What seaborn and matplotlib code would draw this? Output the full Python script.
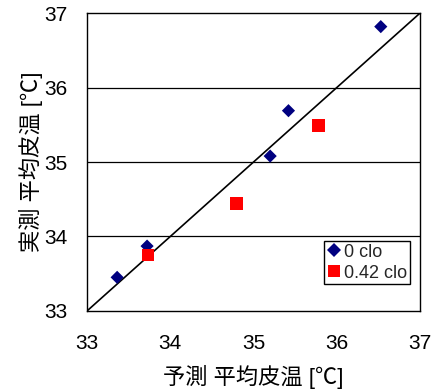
import matplotlib
matplotlib.use("Agg")
import matplotlib.pyplot as plt
import seaborn as sns
import pandas as pd

# data
x_0clo = [33.36, 33.72, 35.20, 35.42, 36.53]
y_0clo = [33.45, 33.87, 35.08, 35.69, 36.82]
x_042clo = [33.73, 34.80, 35.78]
y_042clo = [33.75, 34.44, 35.49]
series_names = ["0 clo", "0.42 clo"]
ticks = [33, 34, 35, 36, 37]
lims = [33, 37]
xlabel = "予測 平均皮温 [℃]"
ylabel = "実測 平均皮温 [℃]"

sns.set_style("white")
plt.rcParams['font.family'] = ['Liberation Sans', 'Noto Sans CJK JP', 'DejaVu Sans']

df = pd.concat([
    pd.DataFrame({"x": x_0clo, "y": y_0clo, "series": series_names[0]}),
    pd.DataFrame({"x": x_042clo, "y": y_042clo, "series": series_names[1]}),
], ignore_index=True)

fig = plt.figure(figsize=(4.36, 3.89), dpi=100)
ax = fig.add_axes([0.200, 0.201, 0.763, 0.765])

for yv in ticks[1:-1]:
    ax.axhline(yv, color="black", lw=0.9, zorder=1)
ax.plot(lims, lims, color="black", lw=1.2, zorder=2)

sns.scatterplot(data=df, x="x", y="y", hue="series", style="series",
                palette={series_names[0]: "#000080", series_names[1]: "#FF0000"},
                markers={series_names[0]: "D", series_names[1]: "s"},
                size="series", sizes={series_names[0]: 45, series_names[1]: 85},
                linewidth=0, ax=ax, zorder=3, legend=True)

ax.set_xlim(lims)
ax.set_ylim(lims)
ax.set_xticks(ticks)
ax.set_yticks(ticks)
ax.tick_params(axis="both", direction="in", length=7, width=0.9, labelsize=15, pad=17,
               colors="black")
ax.tick_params(axis="y", pad=14)
for s in ax.spines.values():
    s.set_color("black")
    s.set_linewidth(1.0)
ax.set_xlabel(xlabel, fontsize=16, labelpad=8, color="black")
ax.set_ylabel(ylabel, fontsize=16, labelpad=1, color="black")

h, l = ax.get_legend_handles_labels()
leg = ax.legend(h, l, loc="lower right", bbox_to_anchor=(0.97, 0.089), fontsize=13,
                frameon=True, fancybox=False, edgecolor="black", framealpha=1,
                handletextpad=0.15, handlelength=0.8, borderpad=0.15, labelspacing=0.22,
                borderaxespad=0.0)
leg.get_frame().set_linewidth(1.0)

fig.savefig("out.png", dpi=100)
